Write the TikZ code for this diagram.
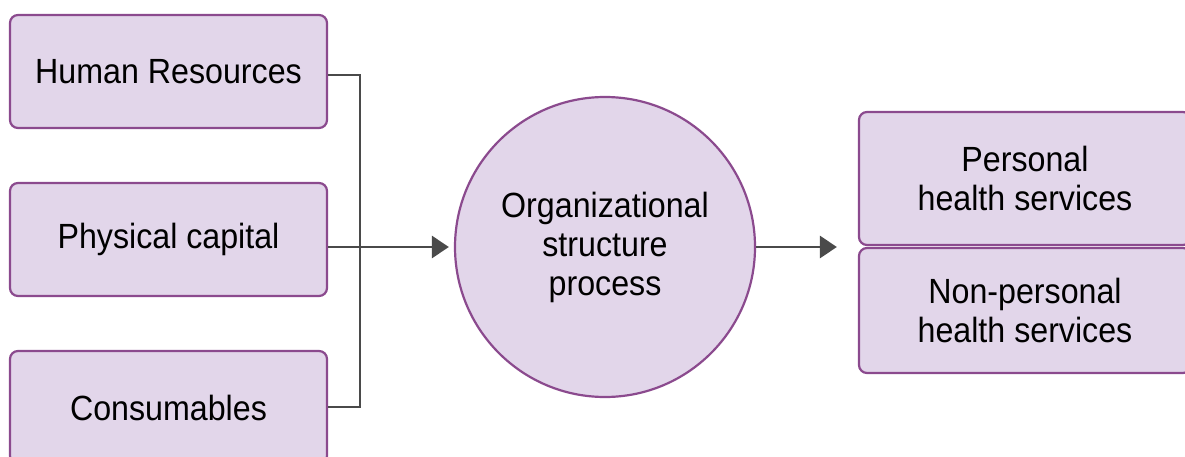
\documentclass[tikz,border=0pt]{standalone}
\usepackage{fontspec}
\setmainfont{Liberation Sans}[FakeStretch=0.92]
\usetikzlibrary{arrows.meta, positioning}

\definecolor{boxfill}{HTML}{E2D6EA}
\definecolor{boxline}{HTML}{8B4A8E}
\definecolor{arrowgray}{HTML}{4A4A4A}

\begin{document}
\begin{tikzpicture}[
            x = 1pt, y = -1pt, % one unit per pixel
            > = {Triangle[length=17pt, width=22pt]}, % arrow head style
            line width = 2.2pt,
            font = \fontsize{35}{39}\selectfont
        ]

        \tikzstyle{inbox}=[
            draw = boxline,
            fill = boxfill,
            rounded corners = 8pt,
            minimum width = 317pt,
            minimum height = 113pt,
            inner sep = 0pt
        ]
        \tikzstyle{outbox}=[
            inbox,
            minimum width = 332pt,
            align = center
        ]
        \tikzstyle{conn}=[
            draw = arrowgray,
            line width = 2.5pt
        ]

	\useasboundingbox (0,0) rectangle (1185,457);

	\node[inbox] (hr) at (168.5,71.5) {Human Resources};
	\node[inbox] (pc) at (168.5,239.5) {Physical capital};
	\node[inbox] (co) at (168.5,407.5) {Consumables};

	\node[circle, draw = boxline, fill = boxfill, minimum size = 300pt,
	      inner sep = 0pt, align = center] (org) at (605,247)
	      {\raisebox{-4pt}{\parbox{280pt}{\centering Organizational\\structure\\process}}};

	\node[outbox, minimum height = 133pt] (phs) at (1025,178.5)
	      {\raisebox{-2pt}{\parbox{300pt}{\centering Personal\\health services}}};
	\node[outbox, minimum height = 125pt] (nphs) at (1025,310.5)
	      {Non-personal\\health services};

	\coordinate (jt) at (360,75);
	\coordinate (jb) at (360,407);

	\path[conn] (hr.east |- jt) -- (jt) -- (jb) -- (co.east |- jb);
	\path[conn, ->] (pc.east |- org) -- ([xshift=-5pt]org.west);
	\path[conn, ->] (org.east) -- ([xshift=-21pt]phs.west |- org);

    \end{tikzpicture}
\end{document}
